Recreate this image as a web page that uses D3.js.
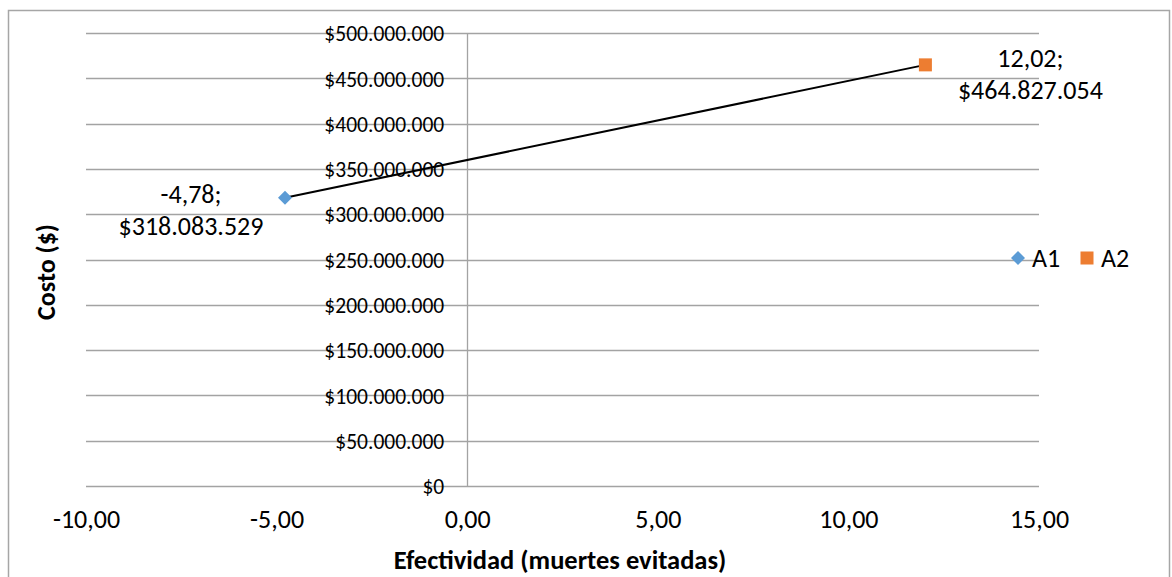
<!DOCTYPE html>
<html>
<head>
<meta charset="utf-8">
<script src="https://cdn.jsdelivr.net/npm/d3@7"></script>
<style>
  html, body { margin: 0; padding: 0; background: #fff; }
  svg { display: block; font-family: Carlito, Lato, "Open Sans", sans-serif; }
</style>
</head>
<body>
<svg id="chart" width="1172" height="577"></svg>
<script>
// Cost-effectiveness plane: two alternatives
const names = ["A1", "A2"];
const effect = [-4.78, 12.02];          // muertes evitadas
const cost = [318083529, 464827054];    // costo ($)
const colors = ["#5B9BD5", "#ED7D31"];
const shapes = ["diamond", "square"];

const xTicks = [-10, -5, 0, 5, 10, 15];
const yTicks = [0, 50e6, 100e6, 150e6, 200e6, 250e6, 300e6, 350e6, 400e6, 450e6, 500e6];

const locale = d3.formatLocale({
  decimal: ",", thousands: ".", grouping: [3], currency: ["$", ""], minus: "-"
});
const fmtX = locale.format(",.2f");
const fmtY = locale.format("$,.0f");

const svg = d3.select("#chart");
const plot = { left: 86, right: 1039, top: 33, bottom: 486 };

const x = d3.scaleLinear().domain([-10, 15]).range([plot.left, plot.right]);
const y = d3.scaleLinear().domain([0, 500e6]).range([plot.bottom, plot.top]);

const grid = "#a3a3a3";

// chart frame
svg.append("rect")
  .attr("x", 8.5).attr("y", 10.5)
  .attr("width", 1161).attr("height", 600)
  .attr("fill", "none").attr("stroke", "#a6a6a6").attr("stroke-width", 1.5);

// horizontal gridlines
svg.append("g").selectAll("line").data(yTicks).join("line")
  .attr("x1", plot.left).attr("x2", plot.right)
  .attr("y1", d => Math.round(y(d)) + 0.5).attr("y2", d => Math.round(y(d)) + 0.5)
  .attr("stroke", grid).attr("stroke-width", 1.3);

// vertical value axis at x = 0
svg.append("line")
  .attr("x1", Math.round(x(0)) + 0.5).attr("x2", Math.round(x(0)) + 0.5)
  .attr("y1", plot.top).attr("y2", plot.bottom)
  .attr("stroke", grid).attr("stroke-width", 1.3);

// y tick labels, next to the axis line
const yAxis = d3.axisLeft(y).tickValues(yTicks).tickFormat(fmtY).tickSize(0).tickPadding(23);
const gy = svg.append("g").attr("transform", `translate(${x(0)},0)`).call(yAxis);
gy.select(".domain").remove();
gy.selectAll("text")
  .attr("font-size", 21.5).attr("fill", "#000")
  .attr("font-family", "Carlito, Lato, sans-serif")
  .attr("dy", "0.36em");

// x tick labels along the bottom
const xAxis = d3.axisBottom(x).tickValues(xTicks).tickFormat(fmtX).tickSize(0).tickPadding(24);
const gx = svg.append("g").attr("transform", `translate(0,${plot.bottom})`).call(xAxis);
gx.select(".domain").remove();
gx.selectAll("text")
  .attr("font-size", 26).attr("fill", "#000")
  .attr("font-family", "Carlito, Lato, sans-serif");

// axis titles
svg.append("text")
  .attr("x", 560).attr("y", 569)
  .attr("text-anchor", "middle")
  .attr("font-size", 26.5).attr("font-weight", "bold")
  .text("Efectividad (muertes evitadas)");

svg.append("text")
  .attr("transform", "translate(55,272) rotate(-90)")
  .attr("text-anchor", "middle")
  .attr("font-size", 26).attr("font-weight", "bold")
  .text("Costo ($)");

// connecting line between the alternatives
svg.append("line")
  .attr("x1", x(effect[0])).attr("y1", y(cost[0]))
  .attr("x2", x(effect[1])).attr("y2", y(cost[1]))
  .attr("stroke", "#000").attr("stroke-width", 2);

// markers
function marker(sel, shape, cx, cy, color) {
  if (shape === "diamond") {
    sel.append("path")
      .attr("d", `M${cx},${cy - 7}L${cx + 7},${cy}L${cx},${cy + 7}L${cx - 7},${cy}Z`)
      .attr("fill", color);
  } else {
    sel.append("rect")
      .attr("x", cx - 6.5).attr("y", cy - 6.5)
      .attr("width", 13).attr("height", 13)
      .attr("fill", color);
  }
}
names.forEach((n, i) => marker(svg, shapes[i], x(effect[i]), y(cost[i]), colors[i]));

// data labels: "effect;" over "$cost"
const labelOffset = [
  { dx: -94, dy: 0 },
  { dx: 105, dy: -3 }
];
names.forEach((n, i) => {
  const cx = x(effect[i]) + labelOffset[i].dx;
  const cy = y(cost[i]) + labelOffset[i].dy;
  const t = svg.append("text")
    .attr("text-anchor", "middle")
    .attr("font-size", 26).attr("fill", "#000");
  t.append("tspan").attr("x", cx).attr("y", cy + 5).text(fmtX(effect[i]) + ";");
  t.append("tspan").attr("x", cx).attr("y", cy + 37).text(fmtY(cost[i]));
});

// legend
const legend = svg.append("g").attr("transform", "translate(1018,258)");
names.forEach((n, i) => {
  const g = legend.append("g").attr("transform", `translate(${i * 69},0)`);
  marker(g, shapes[i], 0, 0, colors[i]);
  g.append("text").attr("x", 14).attr("y", 0).attr("dy", "0.36em")
    .attr("font-size", 26).attr("fill", "#000").text(n);
});
</script>
</body>
</html>
